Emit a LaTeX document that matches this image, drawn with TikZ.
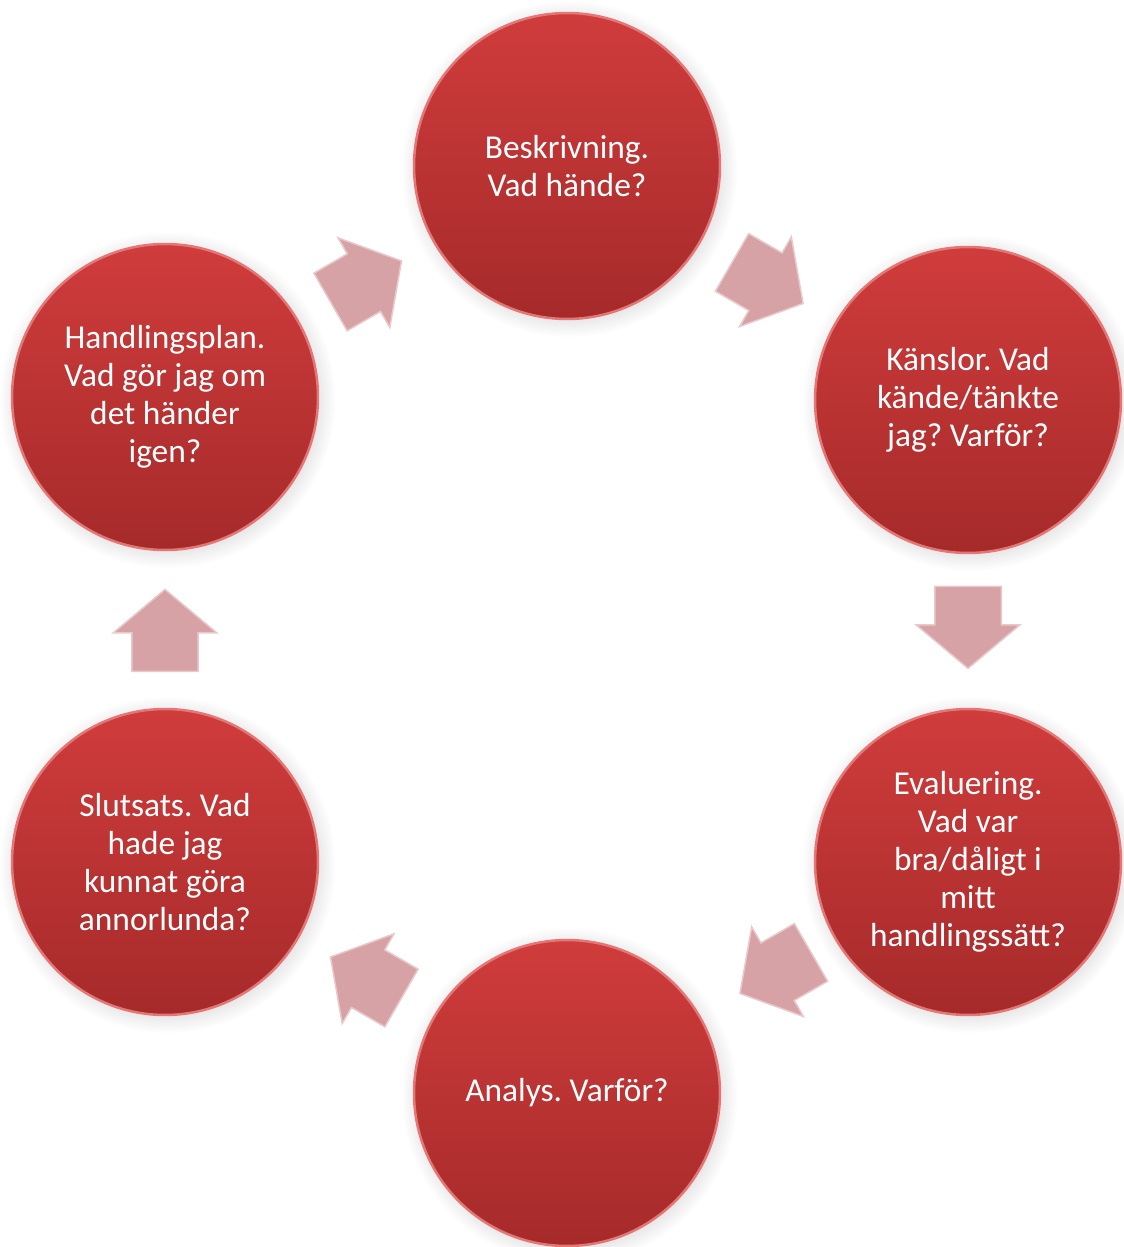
\documentclass[tikz,border=0pt]{standalone}
\usepackage{fontspec}
\setmainfont{Carlito}
\frenchspacing
\usetikzlibrary{shapes.arrows,shadows,calc}

\definecolor{cirktopp}{RGB}{208,60,60}
\definecolor{cirkbotten}{RGB}{166,42,42}
\definecolor{cirkkant}{RGB}{228,118,118}
\definecolor{pilfarg}{RGB}{214,162,165}
\definecolor{pilkant}{RGB}{234,200,202}

\tikzset{
	steg/.style={circle, minimum size=6.12cm, inner sep=0pt,
		top color=cirktopp, bottom color=cirkbotten,
		draw=cirkkant, line width=0.05cm,
		circular drop shadow={shadow xshift=0.04cm, shadow yshift=-0.05cm, opacity=0.25},
		text=white, align=center, font=\fontsize{19}{21.6}\selectfont},
	pil/.style={single arrow, minimum height=1.64cm, minimum width=2.04cm,
		single arrow head extend=0.37cm, single arrow tip angle=100,
		inner xsep=0pt, inner ysep=0.65cm, fill=pilfarg, draw=pilkant, line width=0.03cm}
}

\begin{document}
\begin{tikzpicture}[x=0.02cm, y=-0.02cm]
	\useasboundingbox (0,0) rectangle (1123,1247);
	% cirklarna
	\node [steg] (beskrivning) at (567,166) {Beskrivning.\\Vad hände?};
	\node [steg] (kanslor) at (968,400) {Känslor. Vad\\kände/tänkte\\jag? Varför?};
	\node [steg] (evaluering) at (968,862) {Evaluering.\\Vad var\\bra/dåligt i\\mitt\\handlingssätt?};
	\node [steg] (analys) at (567,1093) {Analys. Varför?};
	\node [steg] (slutsats) at (165,862) {Slutsats. Vad\\hade jag\\kunnat göra\\annorlunda?};
	\node [steg] (handlingsplan) at (165,397) {Handlingsplan.\\Vad gör jag om\\det händer\\igen?};
	% pilarna
	\node [pil, rotate=-30] (pil1) at ($(beskrivning)!0.47!(kanslor)$) {};
	\node [pil, rotate=-90] (pil2) at ($(kanslor)!0.462!(evaluering)$) {};
	\node [pil, rotate=-150] (pil3) at ($(evaluering)!0.45!(analys)$) {};
	\node [pil, rotate=150] (pil4) at ($(analys)!0.47!(slutsats)$) {};
	\node [pil, rotate=90] (pil5) at ($(slutsats)!0.468!(handlingsplan)$) {};
	\node [pil, rotate=30] (pil6) at ($(handlingsplan)!0.47!(beskrivning)$) {};
\end{tikzpicture}
\end{document}
